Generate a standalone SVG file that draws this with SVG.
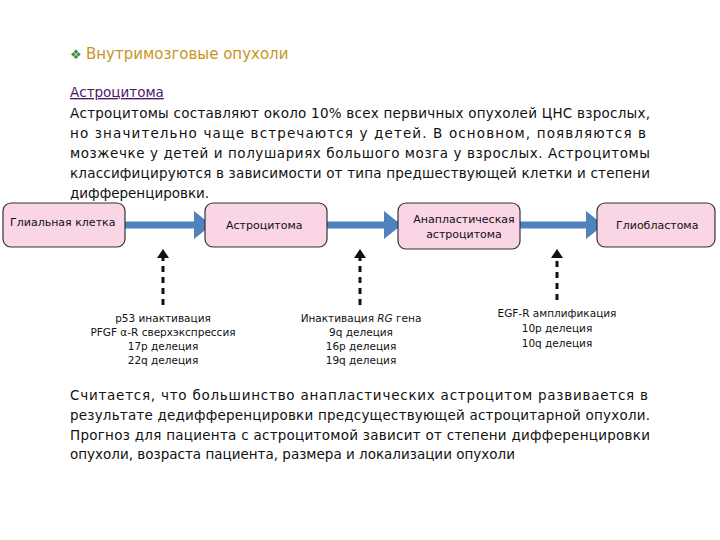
<svg xmlns="http://www.w3.org/2000/svg" width="720" height="540" viewBox="0 0 720 540">
<style>
text{font-family:"DejaVu Sans",sans-serif;}
.p{font-size:13.5px;fill:#111;}
.b{font-size:10.5px;fill:#111;}
.n{font-size:11px;fill:#111;}
.box{fill:#f9d5e5;stroke:#333;stroke-width:1.2;}
.flow{stroke:#4f81bd;stroke-width:7;fill:none;}
.dash{stroke:#111;stroke-width:3;stroke-dasharray:6,5;fill:none;}
</style>
<defs>
<marker id="ah" markerWidth="4" markerHeight="4" refX="2" refY="2" orient="auto" markerUnits="strokeWidth"><path d="M0,0L2.5,2L0,4z" fill="#4f81bd"/></marker>
<marker id="dh" markerWidth="4" markerHeight="4" refX="2" refY="2" orient="auto" markerUnits="strokeWidth"><path d="M0,0L3,2L0,4z" fill="#111"/></marker>
</defs>
<rect width="720" height="540" fill="#fff"/>
<text x="70" y="59" font-size="13" fill="#3a8a3a">❖</text>
<text x="86" y="59" font-size="15" fill="#c8961e">Внутримозговые опухоли</text>
<text x="70" y="97" class="p" fill="#4b1a6b" style="fill:#4b1a6b" text-decoration="underline">Астроцитома</text>
<text class="p" x="70" y="118" textLength="580" lengthAdjust="spacing">Астроцитомы составляют около 10% всех первичных опухолей ЦНС взрослых,</text>
<text class="p" x="70" y="138" textLength="576" lengthAdjust="spacing">но значительно чаще встречаются у детей. В основном, появляются в</text>
<text class="p" x="70" y="158" textLength="580" lengthAdjust="spacing">мозжечке у детей и полушариях большого мозга у взрослых. Астроцитомы</text>
<text class="p" x="70" y="178" textLength="580" lengthAdjust="spacing">классифицируются в зависимости от типа предшествующей клетки и степени</text>
<text class="p" x="70" y="198">дифференцировки.</text>
<g id="connectors">
<line class="flow" x1="118" y1="225" x2="208" y2="225" marker-end="url(#ah)"/>
<line class="flow" x1="318" y1="225" x2="398" y2="225" marker-end="url(#ah)"/>
<line class="flow" x1="512" y1="225" x2="600" y2="225" marker-end="url(#ah)"/>
<line class="dash" x1="163" y1="305" x2="163" y2="252" marker-end="url(#dh)"/>
<line class="dash" x1="360" y1="305" x2="360" y2="252" marker-end="url(#dh)"/>
<line class="dash" x1="557" y1="300" x2="557" y2="252" marker-end="url(#dh)"/>
</g>
<g id="glial"><rect class="box" x="3" y="203" width="122" height="44" rx="8"/><text class="n" x="10" y="226">Глиальная клетка</text></g>
<g id="astro"><rect class="box" x="205" y="203" width="122" height="44" rx="8"/><text class="n" x="226" y="229">Астроцитома</text></g>
<g id="anapl"><rect class="box" x="398" y="203" width="122" height="46" rx="8"/><text class="n" x="464" y="223" text-anchor="middle">Анапластическая</text><text class="n" x="464" y="238" text-anchor="middle">астроцитома</text></g>
<g id="glio"><rect class="box" x="597" y="203" width="118" height="44" rx="8"/><text class="n" x="616" y="229">Глиобластома</text></g>
<g id="labels" class="b" text-anchor="middle">
<text class="b" x="163" y="322">p53 инактивация</text>
<text class="b" x="163" y="336">PFGF α-R сверхэкспрессия</text>
<text class="b" x="163" y="350">17p делеция</text>
<text class="b" x="163" y="364">22q делеция</text>
<text class="b" x="361" y="322">Инактивация <tspan font-style="italic">RG</tspan> гена</text>
<text class="b" x="361" y="336">9q делеция</text>
<text class="b" x="361" y="350">16p делеция</text>
<text class="b" x="361" y="364">19q делеция</text>
<text class="b" x="557" y="317">EGF-R амплификация</text>
<text class="b" x="557" y="332">10p делеция</text>
<text class="b" x="557" y="347">10q делеция</text>
</g>
<text class="p" x="70" y="400" textLength="578" lengthAdjust="spacing">Считается, что большинство анапластических астроцитом развивается в</text>
<text class="p" x="70" y="420" textLength="580" lengthAdjust="spacing">результате дедифференцировки предсуществующей астроцитарной опухоли.</text>
<text class="p" x="70" y="440" textLength="580" lengthAdjust="spacing">Прогноз для пациента с астроцитомой зависит от степени дифференцировки</text>
<text class="p" x="70" y="459">опухоли, возраста пациента, размера и локализации опухоли</text>
</svg>
